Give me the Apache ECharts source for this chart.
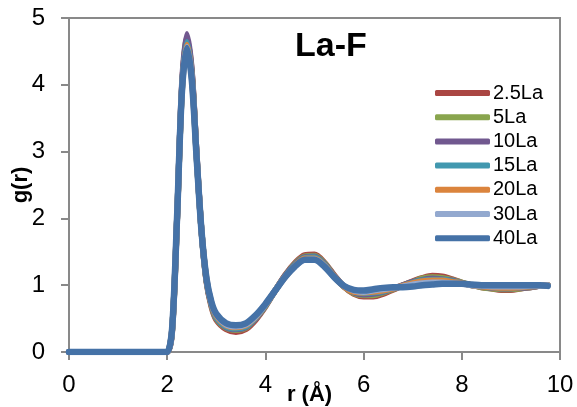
<!DOCTYPE html>
<html>
<head>
<meta charset="utf-8">
<script src="https://cdn.jsdelivr.net/npm/echarts@6/dist/echarts.min.js"></script>
<style>
html,body{margin:0;padding:0;background:#fff;}
#c{width:577px;height:407px;}
</style>
</head>
<body>
<div id="c"></div>
<script>
// r values (Å)
var rValues = [0,1.9,2.0,2.1,2.2,2.3,2.4,2.5,2.6,2.7,2.8,2.9,3.0,3.2,3.4,3.6,3.8,4.0,4.2,4.4,4.6,4.8,5.0,5.2,5.4,5.6,5.8,6.0,6.2,6.4,6.6,6.8,7.0,7.2,7.4,7.6,7.8,8.0,8.2,8.4,8.6,8.8,9.0,9.2,9.4,9.6,9.75];

var seriesNames = ['2.5La','5La','10La','15La','20La','30La','40La'];

var g_2_5La = [0,0,0,0.30,1.95,3.95,4.70,4.20,2.95,1.80,1.05,0.68,0.48,0.34,0.30,0.34,0.48,0.68,0.92,1.15,1.33,1.45,1.46,1.34,1.15,0.98,0.87,0.83,0.83,0.87,0.93,1.00,1.06,1.11,1.14,1.13,1.09,1.04,1.00,0.97,0.95,0.93,0.93,0.95,0.97,0.99,1.00];
var g_5La   = [0,0,0,0.32,1.97,3.93,4.68,4.18,2.93,1.80,1.06,0.70,0.50,0.36,0.33,0.36,0.50,0.69,0.92,1.14,1.32,1.43,1.44,1.33,1.14,0.98,0.88,0.85,0.85,0.89,0.94,1.00,1.05,1.10,1.12,1.11,1.08,1.04,1.00,0.97,0.95,0.94,0.94,0.95,0.97,0.99,1.00];
var g_10La  = [0,0,0,0.33,1.98,4.00,4.76,4.22,2.95,1.80,1.07,0.71,0.51,0.37,0.34,0.37,0.50,0.70,0.92,1.14,1.31,1.42,1.43,1.32,1.14,0.98,0.89,0.86,0.87,0.90,0.95,1.00,1.05,1.08,1.10,1.09,1.07,1.03,1.00,0.98,0.96,0.95,0.95,0.96,0.97,0.99,1.00];
var g_15La  = [0,0,0,0.33,1.98,3.92,4.64,4.15,2.92,1.80,1.08,0.72,0.52,0.38,0.35,0.38,0.51,0.70,0.92,1.13,1.30,1.41,1.42,1.31,1.13,0.98,0.90,0.88,0.89,0.91,0.95,0.99,1.04,1.07,1.08,1.08,1.06,1.03,1.00,0.98,0.97,0.96,0.96,0.97,0.98,0.99,1.00];
var g_20La  = [0,0,0,0.34,1.99,3.90,4.60,4.13,2.91,1.80,1.09,0.73,0.54,0.40,0.37,0.40,0.52,0.71,0.92,1.12,1.29,1.40,1.40,1.30,1.13,0.98,0.90,0.89,0.90,0.92,0.95,0.99,1.03,1.06,1.07,1.07,1.05,1.03,1.00,0.98,0.97,0.96,0.96,0.97,0.98,0.99,1.00];
var g_30La  = [0,0,0,0.34,2.00,3.90,4.57,4.10,2.90,1.80,1.10,0.74,0.56,0.41,0.38,0.41,0.53,0.71,0.92,1.12,1.28,1.38,1.39,1.29,1.12,0.99,0.92,0.90,0.92,0.94,0.96,0.98,1.01,1.03,1.04,1.04,1.03,1.02,1.00,0.99,0.98,0.98,0.98,0.98,0.99,0.99,1.00];
var g_40La  = [0,0,0,0.35,2.00,3.90,4.55,4.08,2.90,1.80,1.10,0.75,0.57,0.43,0.40,0.43,0.55,0.72,0.92,1.12,1.28,1.38,1.38,1.28,1.12,0.99,0.93,0.92,0.94,0.96,0.97,0.97,0.98,1.00,1.01,1.02,1.02,1.02,1.01,1.00,1.00,1.00,1.00,1.00,1.00,1.00,0.99];

var xTicks = [0,2,4,6,8,10];
var yTicks = [0,1,2,3,4,5];

var allValues = [g_2_5La,g_5La,g_10La,g_15La,g_20La,g_30La,g_40La];
var colors = ['#AA4643','#89A54E','#71588F','#4198AF','#DB843D','#93A9CF','#4572A7'];

var FONT = "'Liberation Sans', Arial, sans-serif";

var series = seriesNames.map(function(name, i){
  return {
    name: name,
    type: 'line',
    data: rValues.map(function(r, j){ return [r, allValues[i][j]]; }),
    symbol: 'none',
    showSymbol: false,
    smooth: 0.3,
    lineStyle: {width: i === 6 ? 6.5 : 6, color: colors[i], cap: 'round', join: 'round'},
    itemStyle: {color: colors[i]},
    emphasis: {disabled: true}
  };
});

var chart = echarts.init(document.getElementById('c'), null, {renderer: 'canvas'});
chart.setOption({
  animation: false,
  backgroundColor: '#fff',
  color: colors,
  title: {
    text: 'La-F',
    left: 290, top: 25,
    textStyle: {fontFamily: FONT, fontSize: 34, fontWeight: 'bold', color: '#000'}
  },
  legend: {
    orient: 'vertical',
    left: 435, top: 83,
    padding: 0,
    icon: 'roundRect',
    itemWidth: 55, itemHeight: 6,
    itemGap: 4.2,
    data: seriesNames,
    textStyle: {fontFamily: FONT, fontSize: 20, color: '#000', lineHeight: 20, padding: [0,0,0,-2]}
  },
  grid: {
    left: 69, right: 17, top: 18, bottom: 55,
    show: true, borderColor: '#898989', borderWidth: 2,
    outerBoundsMode: 'none', containLabel: false
  },
  xAxis: {
    type: 'value', min: xTicks[0], max: xTicks[xTicks.length-1], interval: 2,
    name: 'r (Å)', nameLocation: 'middle', nameGap: 32, nameMoveOverlap: false,
    nameTextStyle: {fontFamily: FONT, fontSize: 22, fontWeight: 'bold', color: '#000', padding: [0,10,0,0]},
    axisLine: {show: true, lineStyle: {color: '#898989', width: 2}},
    axisTick: {show: true, length: 8, lineStyle: {color: '#898989', width: 2}},
    axisLabel: {fontFamily: FONT, fontSize: 24, color: '#000', margin: 21},
    splitLine: {show: false}
  },
  yAxis: {
    type: 'value', min: yTicks[0], max: yTicks[yTicks.length-1], interval: 1,
    name: 'g(r)', nameLocation: 'middle', nameGap: 37, nameRotate: 90, nameMoveOverlap: false,
    nameTextStyle: {fontFamily: FONT, fontSize: 22, fontWeight: 'bold', color: '#000'},
    axisLine: {show: true, lineStyle: {color: '#898989', width: 2}},
    axisTick: {show: true, length: 8, lineStyle: {color: '#898989', width: 2}},
    axisLabel: {fontFamily: FONT, fontSize: 24, color: '#000', margin: 24},
    splitLine: {show: false}
  },
  series: series
});
</script>
</body>
</html>
